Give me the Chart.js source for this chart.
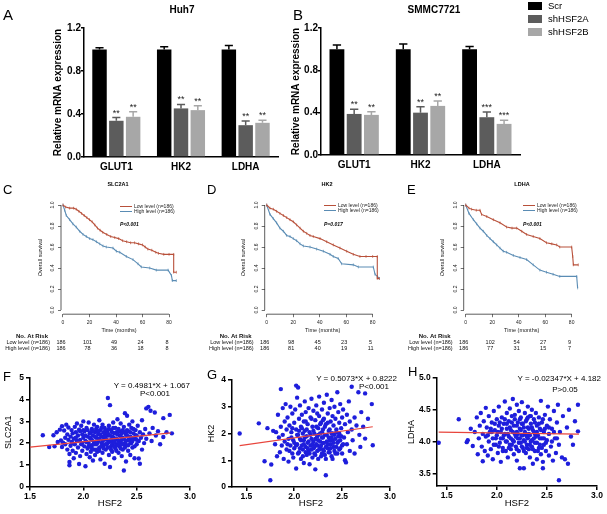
<!DOCTYPE html>
<html>
<head>
<meta charset="utf-8">
<script src="https://cdn.jsdelivr.net/npm/chart.js@4.4.1/dist/chart.umd.min.js"></script>
<style>
  html, body { margin: 0; padding: 0; background: #fff; }
  body { width: 607px; height: 514px; position: relative; overflow: hidden;
         font-family: 'Liberation Sans', Arial, sans-serif; color: #000; }
  canvas { position: absolute; display: block; }
  .txt { position: absolute; white-space: nowrap; line-height: 1; }
  .sw { position: absolute; }
</style>
</head>
<body>
<script>
'use strict';
// ── Barres (A, B) ───────────────────────────────────────────────────────────
const genes        = ['GLUT1', 'HK2', 'LDHA'];
const seriesNames  = ['Scr', 'shHSF2A', 'shHSF2B'];
const seriesColors = ['#000000', '#5c5c5c', '#a7a7a7'];
const barYTicks    = [0, 0.4, 0.8, 1.2];

const huh7Scr    = [1.0, 1.0, 1.0];
const huh7A      = [0.337, 0.452, 0.296];
const huh7B      = [0.374, 0.436, 0.318];
const huh7ScrErr = [0.017, 0.025, 0.037];
const huh7AErr   = [0.030, 0.037, 0.040];
const huh7BErr   = [0.047, 0.040, 0.025];
const huh7Stars  = [['', '', ''], ['**', '**', '**'], ['**', '**', '**']];

const smmcScr    = [1.0, 1.0, 1.0];
const smmcA      = [0.388, 0.400, 0.357];
const smmcB      = [0.379, 0.464, 0.294];
const smmcScrErr = [0.040, 0.050, 0.025];
const smmcAErr   = [0.045, 0.055, 0.050];
const smmcBErr   = [0.030, 0.047, 0.035];
const smmcStars  = [['', '', ''], ['**', '**', '***'], ['**', '**', '***']];

// ── Kaplan-Meier (C, D, E) ──────────────────────────────────────────────────
const kmXTicks   = [0, 20, 40, 60, 80];
const kmYTicks   = [0, 0.2, 0.4, 0.6, 0.8, 1.0];
const kmLegend   = ['Low level (n=186)', 'High level (n=186)'];
const kmColors   = ['#b8503a', '#5a8cb4'];
const riskLabels = ['Low level (n=186)', 'High level (n=186)'];
const kmTitles   = ['SLC2A1', 'HK2', 'LDHA'];
const kmPValues  = ['P<0.001', 'P=0.017', 'P<0.001'];

const slc2a1LowT  = [0, 2, 5, 8, 10, 12, 14, 16, 18, 20, 22, 24, 26, 28, 30, 33, 36, 39, 42, 45, 48, 51, 54, 57, 60, 62, 64, 67, 70, 72, 76, 80, 83.5, 83.5, 85.5];
const slc2a1LowS  = [1.0, 0.98, 0.97, 0.97, 0.96, 0.94, 0.92, 0.90, 0.88, 0.86, 0.84, 0.81, 0.78, 0.76, 0.74, 0.72, 0.70, 0.69, 0.68, 0.66, 0.65, 0.64, 0.64, 0.63, 0.62, 0.60, 0.58, 0.57, 0.55, 0.54, 0.53, 0.53, 0.53, 0.36, 0.36];
const slc2a1HighT = [0, 1.3, 2.5, 5, 7.5, 10, 12.6, 15.1, 17.6, 20.1, 22.6, 25.2, 27.7, 30.2, 32.7, 37.7, 40.3, 42.8, 47.8, 52.8, 56.6, 59.1, 65.4, 70.4, 79.3, 81.8, 82.5, 85.5];
const slc2a1HighS = [1.0, 0.95, 0.90, 0.86, 0.82, 0.79, 0.75, 0.72, 0.70, 0.68, 0.67, 0.65, 0.63, 0.61, 0.60, 0.59, 0.56, 0.55, 0.51, 0.48, 0.44, 0.41, 0.40, 0.38, 0.38, 0.33, 0.28, 0.28];

const hk2LowT  = [0, 2.5, 5, 7.5, 10, 12.6, 15.1, 17.6, 20.1, 22.6, 25.2, 27.7, 30.2, 32.7, 35.2, 40.3, 45.3, 50.3, 55.3, 60.4, 65.4, 70.4, 75, 80, 83.5, 83.5, 85];
const hk2LowS  = [1.0, 0.97, 0.96, 0.94, 0.92, 0.90, 0.88, 0.86, 0.84, 0.81, 0.78, 0.75, 0.73, 0.71, 0.70, 0.68, 0.65, 0.62, 0.59, 0.56, 0.53, 0.51, 0.51, 0.51, 0.51, 0.30, 0.30];
const hk2HighT = [0, 2.5, 5, 7.5, 10, 12.6, 15.1, 17.6, 20.1, 22.6, 25.2, 27.7, 32.7, 37.7, 42.8, 47.8, 50.3, 54, 56.6, 65.4, 69.2, 80.5, 81.8, 83.5, 85];
const hk2HighS = [1.0, 0.91, 0.87, 0.83, 0.78, 0.75, 0.71, 0.70, 0.68, 0.66, 0.63, 0.61, 0.60, 0.58, 0.56, 0.53, 0.51, 0.49, 0.44, 0.43, 0.41, 0.41, 0.34, 0.32, 0.30];

const ldhaLowT  = [0, 2.5, 4.5, 8, 10.8, 12, 15.9, 20.9, 25.9, 30.9, 35, 38.5, 42.3, 46, 51, 56, 61, 65, 68.7, 71, 80, 80.8, 81.3, 85];
const ldhaLowS  = [1.0, 0.97, 0.96, 0.95, 0.95, 0.91, 0.89, 0.86, 0.83, 0.79, 0.78, 0.78, 0.75, 0.72, 0.70, 0.68, 0.64, 0.63, 0.62, 0.60, 0.60, 0.51, 0.43, 0.43];
const ldhaHighT = [0, 2.5, 5.8, 8.3, 10.8, 13.3, 15.9, 18.4, 20.9, 23.4, 25.9, 28.4, 30.9, 36, 41, 46, 51, 56, 61, 66, 71, 83.8, 84.5];
const ldhaHighS = [1.0, 0.92, 0.86, 0.82, 0.78, 0.75, 0.71, 0.68, 0.65, 0.62, 0.59, 0.56, 0.55, 0.52, 0.50, 0.48, 0.43, 0.38, 0.36, 0.34, 0.32, 0.32, 0.21];

const slc2a1Risk = [[186, 101, 49, 24, 8], [186, 78, 36, 18, 8]];
const hk2Risk    = [[186, 98, 45, 23, 5], [186, 81, 40, 19, 11]];
const ldhaRisk   = [[186, 102, 54, 27, 9], [186, 77, 31, 15, 7]];

// ── Corrélations (F, G, H) ──────────────────────────────────────────────────
const scatterXTicks = [1.5, 2.0, 2.5, 3.0];
const slc2a1YTicks  = [0, 1, 2, 3, 4, 5];
const hk2YTicks     = [0, 1, 2, 3, 4];
const ldhaYTicks    = [3.5, 4.0, 4.5, 5.0];
const fitSlopes     = [0.4981, 0.5073, -0.02347];
const fitIntercepts = [1.067, 0.8222, 4.182];
const fitRanges     = [[1.5, 2.82], [1.43, 2.82], [1.42, 2.82]];
const eqTexts       = ['Y = 0.4981*X + 1.067', 'Y = 0.5073*X + 0.8222', 'Y = -0.02347*X + 4.182'];
const corrPTexts    = ['P<0.001', 'P<0.001', 'P>0.05'];

const slc2a1Pts = [
  [1.62,2.36],[1.68,1.82],[1.72,2.36],[1.73,1.85],[1.75,2.50],[1.76,2.05],[1.78,2.62],[1.79,2.12],[1.80,1.82],[1.80,2.78],
  [1.81,2.02],[1.82,2.58],[1.83,2.25],[1.83,1.95],[1.84,2.85],[1.85,2.40],[1.85,1.70],[1.86,2.15],[1.86,2.72],[1.87,1.13],
  [1.87,0.98],[1.87,1.50],[1.88,2.30],[1.88,1.88],[1.89,2.60],[1.89,2.05],[1.90,1.65],[1.90,2.45],[1.91,2.20],[1.91,1.30],
  [1.92,2.75],[1.92,1.95],[1.93,2.50],[1.93,1.55],[1.94,2.10],[1.94,2.90],[1.95,1.80],[1.95,2.35],[1.96,1.04],[1.96,2.62],
  [1.97,1.40],[1.97,2.15],[1.98,1.95],[1.98,2.80],[1.99,2.40],[1.99,1.65],[2.00,2.25],[2.00,3.00],[2.01,1.85],[2.01,2.55],
  [2.02,0.93],[2.02,2.10],[2.03,1.50],[2.03,2.70],[2.04,2.30],[2.04,1.75],[2.05,2.95],[2.05,2.00],[2.06,1.35],[2.06,2.45],
  [2.07,2.20],[2.07,1.60],[2.08,2.65],[2.08,1.90],[2.09,2.35],[2.09,1.20],[2.10,2.05],[2.10,2.85],[2.10,1.70],[2.11,2.50],
  [2.11,1.45],[2.12,2.25],[2.12,1.95],[2.13,2.75],[2.13,1.60],[2.14,2.10],[2.14,2.40],[2.15,1.80],[2.15,3.05],[2.16,2.60],
  [2.16,1.25],[2.17,2.00],[2.17,2.30],[2.18,1.55],[2.18,2.85],[2.19,2.15],[2.19,1.90],[2.20,2.45],[2.20,1.05],[2.20,2.70],
  [2.21,2.20],[2.21,1.70],[2.22,2.55],[2.22,1.95],[2.23,4.08],[2.23,2.35],[2.24,1.45],[2.24,2.80],[2.25,0.90],[2.25,2.10],
  [2.25,3.75],[2.26,1.85],[2.26,2.60],[2.27,2.30],[2.27,1.60],[2.28,2.95],[2.28,2.05],[2.29,2.45],[2.29,1.30],[2.30,2.20],
  [2.30,1.75],[2.30,2.70],[2.31,2.50],[2.31,1.95],[2.32,3.10],[2.32,2.15],[2.33,1.55],[2.33,2.65],[2.34,2.35],[2.34,1.85],
  [2.35,2.90],[2.35,2.05],[2.36,1.40],[2.36,2.55],[2.37,2.25],[2.37,1.70],[2.38,0.74],[2.38,2.75],[2.39,2.00],[2.39,3.38],
  [2.40,1.15],[2.40,2.40],[2.40,1.90],[2.41,3.26],[2.41,2.60],[2.42,2.15],[2.42,1.65],[2.43,2.85],[2.44,2.30],[2.44,1.45],
  [2.45,2.00],[2.45,2.70],[2.46,1.80],[2.46,3.00],[2.47,2.45],[2.48,2.20],[2.48,1.30],[2.49,2.60],[2.50,1.95],[2.50,2.35],
  [2.51,2.80],[2.52,1.29],[2.52,2.10],[2.53,1.05],[2.53,2.50],[2.54,2.25],[2.55,3.05],[2.55,1.70],[2.56,2.40],[2.57,2.00],
  [2.58,2.65],[2.59,3.60],[2.59,2.20],[2.61,3.67],[2.62,2.45],[2.63,3.49],[2.64,2.10],[2.65,2.70],[2.67,3.41],[2.68,2.35],
  [2.70,2.55],[2.72,1.95],[2.75,3.15],[2.75,2.28],[2.78,2.50],[2.81,3.30],[2.83,2.45],
  [2.02,2.35],[2.03,2.05],[2.04,2.60],[2.05,1.85],[2.06,2.25],[2.07,2.50],[2.08,1.75],[2.08,2.15],[2.09,2.55],[2.10,1.95],
  [2.11,2.30],[2.12,1.70],[2.12,2.65],[2.13,2.00],[2.14,2.55],[2.15,2.20],[2.15,1.65],[2.16,2.40],[2.17,1.85],[2.17,2.70],
  [2.18,2.10],[2.19,2.50],[2.19,1.75],[2.20,2.30],[2.21,1.95],[2.21,2.60],[2.22,2.15],[2.23,1.80],[2.23,2.45],[2.24,2.05],
  [2.24,2.65],[2.25,2.35],[2.26,1.70],[2.26,2.15],[2.27,2.50],[2.27,1.95],[2.28,2.25],[2.28,2.70],[2.29,1.85],[2.29,2.05],
  [2.30,2.45],[2.31,2.20],[2.31,1.65],[2.32,2.40],[2.32,1.90],[2.33,2.10],[2.33,2.55],[2.34,2.00],[2.35,2.30],[2.35,1.75],
  [2.36,2.45],[2.36,2.15],[2.37,1.95],[2.37,2.60],[2.38,2.20],[2.39,1.80],[2.39,2.50],[2.40,2.10],[2.41,2.35],[2.42,1.90],
  [2.42,2.55],[2.43,2.15],[2.44,2.00],[2.44,2.50],[2.45,2.25],[2.46,2.10],[2.47,2.65],[2.48,1.85],[2.49,2.35],[2.50,2.15],
  [1.95,2.10],[1.97,2.55],[1.99,2.00],[2.00,2.60],[1.93,2.25],[1.90,2.00]
];

const hk2Pts = [
  [1.43,2.00],[1.63,2.38],[1.69,0.96],[1.72,2.20],[1.75,0.25],[1.76,0.84],[1.78,2.10],[1.80,1.60],[1.81,2.05],[1.82,1.15],
  [1.83,2.70],[1.84,1.85],[1.85,1.30],[1.86,3.66],[1.86,2.25],[1.87,1.55],[1.88,2.95],[1.88,1.95],[1.89,1.05],[1.90,2.45],
  [1.90,1.70],[1.91,3.10],[1.92,2.15],[1.92,1.40],[1.93,2.60],[1.94,1.80],[1.94,0.95],[1.95,2.30],[1.96,1.55],[1.96,3.00],
  [1.97,2.05],[1.98,1.25],[1.98,2.75],[1.99,1.75],[2.00,2.40],[2.00,1.45],[2.01,2.90],[2.02,3.79],[2.02,0.69],[2.02,2.15],
  [2.03,3.34],[2.03,1.60],[2.04,3.72],[2.04,1.95],[2.05,2.55],[2.05,1.30],[2.06,1.80],[2.06,3.05],[2.07,2.25],[2.07,1.05],
  [2.08,1.55],[2.08,2.70],[2.09,2.00],[2.09,1.40],[2.10,2.45],[2.10,0.90],[2.10,1.75],[2.11,3.20],[2.11,2.10],[2.12,1.50],
  [2.12,2.80],[2.13,1.20],[2.13,1.90],[2.14,2.35],[2.14,1.65],[2.15,2.95],[2.15,1.35],[2.16,2.05],[2.16,0.85],[2.17,2.60],
  [2.17,1.55],[2.18,1.80],[2.18,3.30],[2.19,2.25],[2.19,1.10],[2.20,1.70],[2.20,2.85],[2.20,1.45],[2.21,2.00],[2.21,1.25],
  [2.22,0.66],[2.22,2.50],[2.23,1.60],[2.23,3.05],[2.24,1.90],[2.24,1.35],[2.25,2.20],[2.25,1.75],[2.26,3.38],[2.26,2.65],
  [2.27,1.50],[2.27,2.00],[2.28,1.15],[2.28,2.40],[2.29,1.85],[2.29,2.90],[2.30,1.40],[2.30,2.15],[2.30,1.65],[2.31,3.15],
  [2.31,2.55],[2.32,1.95],[2.32,1.20],[2.33,0.44],[2.33,2.35],[2.34,1.70],[2.34,3.45],[2.35,2.75],[2.35,1.45],[2.36,2.10],
  [2.36,1.85],[2.37,2.95],[2.37,1.30],[2.38,2.45],[2.38,1.60],[2.39,3.25],[2.39,2.00],[2.40,1.05],[2.40,2.65],[2.40,1.75],
  [2.41,2.30],[2.41,1.50],[2.42,3.00],[2.42,1.95],[2.43,2.55],[2.43,1.25],[2.44,2.15],[2.45,3.54],[2.45,1.65],[2.46,2.80],
  [2.46,1.90],[2.47,1.40],[2.47,2.40],[2.48,3.10],[2.48,1.75],[2.49,2.20],[2.50,1.55],[2.50,2.60],[2.51,2.90],[2.52,1.85],
  [2.53,1.00],[2.53,2.35],[2.54,0.92],[2.55,2.70],[2.55,1.60],[2.56,2.05],[2.57,3.20],[2.58,1.35],[2.58,2.45],[2.60,3.75],
  [2.60,2.15],[2.61,1.75],[2.63,1.25],[2.63,2.60],[2.65,2.30],[2.67,3.54],[2.68,1.95],[2.69,1.50],[2.70,2.80],[2.72,2.25],
  [2.74,3.50],[2.74,1.81],[2.77,2.55],[2.81,3.10],[2.82,1.56],
  [2.02,1.55],[2.03,1.95],[2.04,1.25],[2.05,2.10],[2.06,1.45],[2.07,1.75],[2.08,2.20],[2.09,1.15],[2.10,1.60],[2.11,1.85],
  [2.12,1.30],[2.13,2.15],[2.14,1.45],[2.15,1.70],[2.16,1.25],[2.17,1.95],[2.18,1.40],[2.19,1.60],[2.20,2.10],[2.21,1.50],
  [2.22,1.80],[2.22,1.20],[2.23,2.25],[2.24,1.55],[2.25,1.05],[2.25,1.95],[2.26,1.40],[2.27,1.70],[2.27,2.35],[2.28,1.55],
  [2.29,1.25],[2.29,2.05],[2.30,1.85],[2.31,1.35],[2.31,1.65],[2.32,2.25],[2.33,1.50],[2.33,1.05],[2.34,1.95],[2.35,1.60],
  [2.35,2.40],[2.36,1.30],[2.37,1.75],[2.37,2.15],[2.38,1.45],[2.39,1.85],[2.39,1.15],[2.40,2.00],[2.41,1.65],[2.42,1.35],
  [2.43,1.80],[2.44,2.05],[2.44,1.50],[2.45,1.25],[2.46,1.70],[2.47,2.00],[2.48,1.45],[2.49,1.90],[2.50,1.25],[2.51,1.60],
  [1.95,1.35],[1.97,1.85],[1.99,1.10],[2.00,1.65],[1.98,2.20],[1.93,1.60],[2.12,2.45],[2.18,2.55],[2.24,2.75],[2.30,2.50]
];

const ldhaPts = [
  [1.42,3.98],[1.62,4.35],[1.70,3.99],[1.71,4.02],[1.74,4.20],[1.76,3.93],[1.78,4.15],[1.80,4.38],[1.81,3.80],[1.82,4.05],
  [1.83,4.25],[1.84,4.45],[1.85,3.92],[1.86,3.69],[1.86,4.12],[1.87,4.32],[1.88,3.85],[1.89,4.53],[1.89,4.08],[1.90,4.22],
  [1.91,3.78],[1.92,4.40],[1.92,4.00],[1.93,4.15],[1.94,3.88],[1.95,4.30],[1.96,4.05],[1.96,3.72],[1.97,4.48],[1.98,4.18],
  [1.99,3.95],[2.00,4.35],[2.00,4.10],[2.01,3.82],[2.02,4.25],[2.02,4.55],[2.03,3.98],[2.04,4.15],[2.04,3.68],[2.05,4.38],
  [2.06,4.05],[2.06,3.90],[2.07,4.28],[2.08,4.63],[2.08,4.12],[2.09,3.85],[2.10,4.45],[2.10,4.00],[2.10,4.20],[2.11,3.75],
  [2.12,4.32],[2.12,4.08],[2.13,3.95],[2.13,4.52],[2.14,4.18],[2.14,3.88],[2.15,4.40],[2.16,4.67],[2.16,4.02],[2.17,4.25],
  [2.17,3.80],[2.18,4.12],[2.18,4.35],[2.19,3.92],[2.20,4.58],[2.20,4.15],[2.20,3.70],[2.21,4.05],[2.21,4.30],[2.22,3.85],
  [2.22,4.48],[2.23,3.58],[2.23,4.20],[2.24,3.98],[2.24,4.38],[2.25,4.62],[2.25,4.10],[2.26,3.90],[2.26,4.28],[2.27,3.58],
  [2.27,4.02],[2.28,4.45],[2.28,4.15],[2.29,3.82],[2.30,4.35],[2.30,4.08],[2.30,3.95],[2.31,4.55],[2.31,4.22],[2.32,3.88],
  [2.32,4.12],[2.33,4.40],[2.33,3.75],[2.34,4.00],[2.34,4.28],[2.35,3.92],[2.35,4.50],[2.36,4.18],[2.36,3.65],[2.37,4.05],
  [2.37,4.35],[2.38,3.85],[2.38,4.12],[2.39,4.45],[2.40,3.98],[2.40,4.25],[2.40,3.72],[2.41,4.10],[2.42,4.38],[2.42,3.90],
  [2.43,4.20],[2.44,4.64],[2.44,3.80],[2.45,4.05],[2.45,4.30],[2.46,3.58],[2.46,3.68],[2.47,4.15],[2.47,3.95],[2.48,4.42],
  [2.49,3.85],[2.50,4.25],[2.50,4.02],[2.51,4.55],[2.52,3.78],[2.52,4.12],[2.53,4.35],[2.54,3.92],[2.55,4.20],[2.56,3.70],
  [2.57,4.48],[2.58,4.05],[2.59,3.82],[2.60,4.30],[2.61,4.58],[2.62,3.39],[2.62,3.95],[2.63,4.15],[2.65,3.75],[2.66,4.40],
  [2.68,3.72],[2.70,4.22],[2.71,3.65],[2.72,4.50],[2.74,4.08],[2.76,3.95],[2.78,4.32],[2.81,4.58],[2.81,4.16],
  [2.01,4.15],[2.02,3.92],[2.03,4.30],[2.04,4.05],[2.05,4.20],[2.06,3.85],[2.07,4.10],[2.08,4.35],[2.09,4.00],[2.10,4.28],
  [2.11,4.12],[2.12,3.90],[2.13,4.22],[2.14,4.05],[2.15,3.95],[2.15,4.30],[2.16,4.15],[2.17,4.00],[2.18,4.42],[2.19,4.08],
  [2.20,3.88],[2.20,4.25],[2.21,4.12],[2.22,3.98],[2.23,4.35],[2.23,4.05],[2.24,4.18],[2.25,3.92],[2.25,4.28],[2.26,4.10],
  [2.27,3.85],[2.27,4.22],[2.28,4.00],[2.29,4.32],[2.29,4.12],[2.30,3.90],[2.31,4.05],[2.31,4.38],[2.32,4.20],[2.33,3.95],
  [2.33,4.10],[2.34,4.40],[2.35,4.02],[2.35,4.22],[2.36,3.88],[2.37,4.15],[2.38,4.30],[2.38,3.98],[2.39,4.08],[2.40,4.15],
  [2.41,3.85],[2.42,4.28],[2.43,4.05],[2.43,3.95],[2.44,4.18],[2.45,3.90],[2.46,4.35],[2.47,4.05],[2.48,4.20],[2.49,3.98],
  [1.95,4.15],[1.97,3.95],[1.98,4.28],[1.99,4.05],[1.94,4.20],[1.91,4.10],[2.52,4.22],[2.55,4.00],[2.57,4.15],[2.60,4.05]
];

// ── Mise en page ────────────────────────────────────────────────────────────
const FONT = "'Liberation Sans', Arial, sans-serif";
Chart.defaults.font.family = FONT;
Chart.defaults.color = '#000';

function makeCanvas(left, top, w, h) {
  const c = document.createElement('canvas');
  c.width = w; c.height = h;
  c.style.left = left + 'px'; c.style.top = top + 'px';
  c.style.width = w + 'px'; c.style.height = h + 'px';
  document.body.appendChild(c);
  return c;
}

function txt(s, x, y, o = {}) {
  const d = document.createElement('div');
  d.className = 'txt';
  d.textContent = s;
  const tx = o.align === 'center' ? '-50%' : o.align === 'right' ? '-100%' : '0';
  d.style.cssText = `left:${x}px;top:${y}px;font-size:${o.size || 10}px;font-weight:${o.weight || 'normal'};` +
    `font-style:${o.style || 'normal'};color:${o.color || '#000'};transform:translate(${tx},-50%)`;
  document.body.appendChild(d);
}

function swatch(x, y, w, h, color) {
  const d = document.createElement('div');
  d.className = 'sw';
  d.style.cssText = `left:${x}px;top:${y - h / 2}px;width:${w}px;height:${h}px;background:${color}`;
  document.body.appendChild(d);
}

const setTicks = arr => scale => { scale.ticks = arr.map(v => ({ value: v })); };

// ── Plugins ─────────────────────────────────────────────────────────────────
const errorStars = {
  id: 'errorStars',
  afterDatasetsDraw(chart, args, opts) {
    const { ctx, scales: { y } } = chart;
    ctx.save();
    chart.data.datasets.forEach((ds, di) => {
      chart.getDatasetMeta(di).data.forEach((bar, i) => {
        const top = y.getPixelForValue(ds.data[i] + opts.errors[di][i]);
        const cap = bar.width * 0.28;
        ctx.strokeStyle = ds.backgroundColor;
        ctx.lineWidth = 1.5;
        ctx.beginPath();
        ctx.moveTo(bar.x, bar.y); ctx.lineTo(bar.x, top);
        ctx.moveTo(bar.x - cap, top); ctx.lineTo(bar.x + cap, top);
        ctx.stroke();
        const s = opts.stars[di][i];
        if (s) {
          ctx.fillStyle = '#222';
          ctx.font = '9px ' + FONT;
          ctx.textAlign = 'center';
          ctx.textBaseline = 'alphabetic';
          ctx.fillText(s, bar.x, top - 2);
        }
      });
    });
    ctx.restore();
  }
};

// axes façon R : le trait ne couvre que la plage des graduations
const rAxes = {
  id: 'rAxes',
  afterDraw(chart) {
    const { ctx, chartArea, scales: { x, y } } = chart;
    ctx.save();
    ctx.strokeStyle = '#333'; ctx.lineWidth = 0.8;
    ctx.beginPath();
    ctx.moveTo(chartArea.left, y.getPixelForValue(kmYTicks[0]));
    ctx.lineTo(chartArea.left, y.getPixelForValue(kmYTicks[kmYTicks.length - 1]));
    ctx.moveTo(x.getPixelForValue(kmXTicks[0]), chartArea.bottom);
    ctx.lineTo(x.getPixelForValue(kmXTicks[kmXTicks.length - 1]), chartArea.bottom);
    ctx.stroke();
    ctx.restore();
  }
};

const riskTable = {
  id: 'riskTable',
  afterDraw(chart, args, opts) {
    if (!opts.rows) return;
    const { ctx, chartArea, scales: { x } } = chart;
    ctx.save();
    ctx.fillStyle = '#111';
    ctx.textBaseline = 'middle';
    ctx.font = 'bold 6px ' + FONT;
    ctx.textAlign = 'center';
    ctx.fillText('No. At Risk', chartArea.left - 29, chartArea.bottom + 22);
    ctx.font = '5.5px ' + FONT;
    opts.rows.forEach((row, i) => {
      const yy = chartArea.bottom + 28.5 + i * 6;
      ctx.textAlign = 'right';
      ctx.fillText(riskLabels[i], chartArea.left - 11, yy);
      ctx.textAlign = 'center';
      row.forEach((n, j) => ctx.fillText(String(n), x.getPixelForValue(kmXTicks[j]) - 2, yy));
    });
    ctx.restore();
  }
};

// ── A / B : barres ──────────────────────────────────────────────────────────
function barChart(lay, means, errors, stars, title) {
  const cv = makeCanvas(lay.left, 0, lay.w, 178);
  new Chart(cv, {
    type: 'bar',
    data: {
      labels: genes,
      datasets: seriesNames.map((n, i) => ({
        label: n, data: means[i], backgroundColor: seriesColors[i],
        categoryPercentage: 0.78, barPercentage: 0.86
      }))
    },
    options: {
      responsive: false, animation: false,
      layout: { padding: { left: 0, right: lay.padR, top: 28, bottom: 0 } },
      plugins: { legend: { display: false }, tooltip: { enabled: false }, errorStars: { errors, stars } },
      scales: {
        x: {
          grid: { display: false, drawTicks: false },
          border: { color: '#000', width: 1.5 },
          ticks: { color: '#000', font: { size: 10, weight: 'bold' }, padding: 4 },
          afterFit: s => { s.height = lay.xH; }
        },
        y: {
          min: 0, max: 1.2,
          afterBuildTicks: setTicks(barYTicks),
          ticks: { color: '#000', font: { size: 10, weight: 'bold' }, padding: 0, callback: v => v.toFixed(1) },
          grid: { drawOnChartArea: false, tickLength: 3, color: '#000', lineWidth: 1.5 },
          border: { color: '#000', width: 1.5 },
          title: { display: true, text: 'Relative mRNA expression', color: '#000',
                   font: { size: 10, weight: 'bold' }, padding: { top: 0, bottom: 0 } },
          afterFit: s => { s.width = lay.yW; }
        }
      }
    },
    plugins: [errorStars]
  });
  txt(title, lay.titleX, 10, { align: 'center', size: 10, weight: 'bold' });
}

barChart({ left: 52, w: 233, padR: 7, yW: 32, xH: 21, titleX: 182 },
  [huh7Scr, huh7A, huh7B], [huh7ScrErr, huh7AErr, huh7BErr], huh7Stars, 'Huh7');
barChart({ left: 290, w: 238, padR: 8, yW: 31, xH: 23, titleX: 434 },
  [smmcScr, smmcA, smmcB], [smmcScrErr, smmcAErr, smmcBErr], smmcStars, 'SMMC7721');

// légende des barres
const legendY = [6.3, 18.5, 31.5];
seriesNames.forEach((n, i) => {
  swatch(528, legendY[i], 14, 8, seriesColors[i]);
  txt(n, 548, legendY[i], { size: 9.5 });
});

// ── C / D / E : survie ──────────────────────────────────────────────────────
function kmChart(lay, curves, risk, idx) {
  const cv = makeCanvas(lay.left, 178, lay.w, 175);
  new Chart(cv, {
    type: 'line',
    data: {
      datasets: curves.map((c, i) => ({
        label: kmLegend[i],
        data: c[0].map((t, k) => ({ x: t, y: c[1][k] })),
        borderColor: kmColors[i], pointBorderColor: kmColors[i], backgroundColor: kmColors[i],
        borderWidth: 1.1, tension: 0, fill: false,
        pointStyle: 'line', rotation: 90, pointRadius: 1.4, pointBorderWidth: 0.7
      }))
    },
    options: {
      responsive: false, animation: false,
      layout: { padding: { left: lay.padL, right: lay.padR, top: 22.8, bottom: 19.7 } },
      plugins: { legend: { display: false }, tooltip: { enabled: false }, riskTable: { rows: risk } },
      scales: {
        x: {
          type: 'linear', min: -1.5, max: 86,
          afterBuildTicks: setTicks(kmXTicks),
          ticks: { color: '#222', font: { size: 5 }, padding: 2, maxRotation: 0 },
          grid: { drawOnChartArea: false, tickLength: 3, color: '#333', lineWidth: 0.7 },
          border: { display: false },
          title: { display: true, text: 'Time (months)', color: '#222', font: { size: 5.5 }, padding: { top: 0, bottom: 0 } },
          afterFit: s => { s.height = 19.1; }
        },
        y: {
          min: -0.04, max: 1.04,
          afterBuildTicks: setTicks(kmYTicks),
          ticks: { color: '#222', font: { size: 5 }, padding: 2, minRotation: 90, maxRotation: 90,
                   crossAlign: 'center', callback: v => v.toFixed(1) },
          grid: { drawOnChartArea: false, tickLength: 3, color: '#333', lineWidth: 0.7 },
          border: { display: false },
          title: { display: true, text: 'Overall survival', color: '#222', font: { size: 5.5 }, padding: { top: 0, bottom: 0 } },
          afterFit: s => { s.width = lay.yW; }
        }
      }
    },
    plugins: [rAxes, riskTable]
  });
  txt(kmTitles[idx], lay.titleX, 185, { align: 'center', size: 5.5, weight: 'bold' });
  kmLegend.forEach((n, i) => {
    swatch(lay.legX, lay.legY + i * 5, 12, 1, kmColors[i]);
    txt(n, lay.legX + 14, lay.legY + i * 5, { size: 5, color: '#222' });
  });
  txt(kmPValues[idx], lay.legX, 224, { size: 5, weight: 'bold', style: 'italic' });
}

kmChart({ left: 0, w: 200, padL: 37, yW: 24, padR: 23, titleX: 118, legX: 120, legY: 206 },
  [[slc2a1LowT, slc2a1LowS], [slc2a1HighT, slc2a1HighS]], slc2a1Risk, 0);
kmChart({ left: 200, w: 200, padL: 40, yW: 24.7, padR: 19.4, titleX: 327, legX: 324, legY: 205 },
  [[hk2LowT, hk2LowS], [hk2HighT, hk2HighS]], hk2Risk, 1);
kmChart({ left: 400, w: 207, padL: 39, yW: 24.7, padR: 27.4, titleX: 522, legX: 523, legY: 205 },
  [[ldhaLowT, ldhaLowS], [ldhaHighT, ldhaHighS]], ldhaRisk, 2);

// ── F / G / H : corrélations ────────────────────────────────────────────────
function corrChart(lay, pts, yTicks, yTitle, idx, yFmt) {
  const cv = makeCanvas(lay.left, 370, lay.w, 144);
  const [x0, x1] = fitRanges[idx];
  const fit = [x0, x1].map(x => ({ x, y: fitSlopes[idx] * x + fitIntercepts[idx] }));
  new Chart(cv, {
    type: 'scatter',
    data: {
      datasets: [
        { data: fit, showLine: true, borderColor: '#e8453c', borderWidth: 1.2, pointRadius: 0 },
        { data: pts.map(p => ({ x: p[0], y: p[1] })), backgroundColor: '#1e1edc', pointRadius: 2.2, borderWidth: 0 }
      ]
    },
    options: {
      responsive: false, animation: false,
      layout: { padding: { left: 0, right: lay.padR, top: lay.padT, bottom: 0 } },
      plugins: { legend: { display: false }, tooltip: { enabled: false } },
      scales: {
        x: {
          type: 'linear', min: lay.xMin, max: 3.0,
          afterBuildTicks: setTicks(scatterXTicks),
          ticks: { color: '#000', font: { size: 8.5, weight: 'bold' }, padding: 1, callback: v => v.toFixed(1) },
          grid: { drawOnChartArea: false, tickLength: 4, color: '#000', lineWidth: 1.5 },
          border: { color: '#000', width: 1.5 },
          title: { display: true, text: 'HSF2', color: '#000', font: { size: 9.5 }, padding: { top: 0, bottom: 4.8 } },
          afterFit: s => { s.height = lay.xH; }
        },
        y: {
          min: lay.yMin, max: lay.yMax,
          afterBuildTicks: setTicks(yTicks),
          ticks: { color: '#000', font: { size: 8.5, weight: 'bold' }, padding: 2, callback: yFmt },
          grid: { drawOnChartArea: false, tickLength: 4, color: '#000', lineWidth: 1.5 },
          border: { color: '#000', width: 1.5 },
          title: { display: true, text: yTitle, color: '#000', font: { size: 9 }, padding: { top: lay.yTitlePad, bottom: 0 } },
          afterFit: s => { s.width = lay.yW; }
        }
      }
    }
  });
  txt(eqTexts[idx], lay.eqRight, lay.eqY, { align: 'right', size: 8 });
  txt(corrPTexts[idx], lay.pX, lay.eqY + lay.pDy, { align: 'center', size: 8 });
}

corrChart({ left: 0, w: 200, padR: 10, padT: 8, xH: 27.5, yW: 30, yTitlePad: 3.6, xMin: 1.5, yMin: 0, yMax: 5,
            eqRight: 190, eqY: 385.5, pX: 155, pDy: 8 },
  slc2a1Pts, slc2a1YTicks, 'SLC2A1', 0, v => String(v));
corrChart({ left: 200, w: 207, padR: 17, padT: 10, xH: 27, yW: 32, yTitlePad: 6.3, xMin: 1.35, yMin: 0, yMax: 4,
            eqRight: 397, eqY: 378.5, pX: 374, pDy: 8.5 },
  hk2Pts, hk2YTicks, 'HK2', 1, v => String(v));
corrChart({ left: 400, w: 207, padR: 10, padT: 8, xH: 28, yW: 36.7, yTitlePad: 6.1, xMin: 1.4, yMin: 3.3, yMax: 5.0,
            eqRight: 601, eqY: 379, pX: 565, pDy: 10.5 },
  ldhaPts, ldhaYTicks, 'LDHA', 2, v => v.toFixed(1));

// ── lettres des panneaux ────────────────────────────────────────────────────
const panelLetters = [['A', 3, 14, 15], ['B', 293, 14, 15], ['C', 3, 189, 13], ['D', 207, 189, 13],
                      ['E', 407, 189, 13], ['F', 3, 376, 13], ['G', 207, 374, 13], ['H', 408, 371, 13]];
panelLetters.forEach(([l, x, y, s]) => txt(l, x, y, { size: s }));
</script>
</body>
</html>
